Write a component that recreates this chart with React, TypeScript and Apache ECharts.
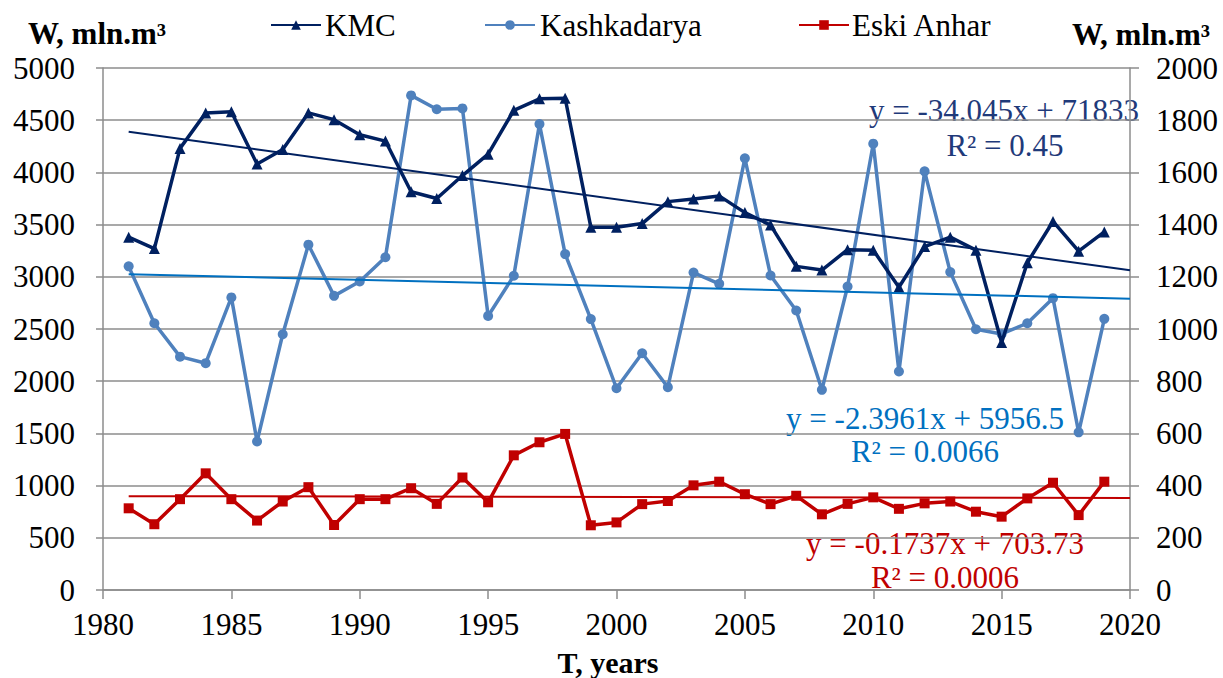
import React, { useEffect, useRef } from "react";
import * as echarts from "echarts";

const years = [1981,1982,1983,1984,1985,1986,1987,1988,1989,1990,1991,1992,1993,1994,1995,1996,1997,1998,1999,2000,2001,2002,2003,2004,2005,2006,2007,2008,2009,2010,2011,2012,2013,2014,2015,2016,2017,2018,2019];
const kmc = [3380,3270,4230,4570,4580,4080,4220,4570,4505,4360,4300,3815,3750,3970,4175,4595,4705,4710,3475,3475,3510,3720,3745,3775,3615,3495,3100,3065,3260,3255,2900,3290,3380,3255,2370,3135,3530,3245,3430];
const kashkadarya = [1240,1022,894,869,1121,569,980,1323,1127,1182,1275,1895,1842,1845,1050,1204,1785,1287,1038,773,907,777,1216,1173,1654,1205,1071,767,1163,1710,837,1604,1218,999,981,1022,1118,604,1039];
const eskiAnhar = [313,252,348,447,348,266,339,394,249,348,348,390,330,431,336,516,566,598,248,259,329,341,401,415,367,329,361,290,330,355,311,332,339,300,281,351,411,287,415];
const seriesNames = ["KMC", "Kashkadarya", "Eski Anhar"];

const xTicks = { min: 1980, max: 2020, interval: 5 };
const leftTicks = { min: 0, max: 5000, interval: 500 };
const rightTicks = { min: 0, max: 2000, interval: 200 };

const trendRange = [1981, 2020];
const kmcTrend = { a: -34.045, b: 71833, eq: "y = -34.045x + 71833", r2: "R² = 0.45" };
const kashTrend = { a: -2.3961, b: 5956.5, eq: "y = -2.3961x + 5956.5", r2: "R² = 0.0066" };
const eskiTrend = { a: -0.1737, b: 703.73, eq: "y = -0.1737x + 703.73", r2: "R² = 0.0006" };

const FONT = "Liberation Serif, Times New Roman, serif";
const C_KMC = "#002060";
const C_KASH = "#4F81BD";
const C_KASH_T = "#0070C0";
const C_ESKI = "#C00000";
const GRID = "#8C8C8C";

const trendData = (t: { a: number; b: number }) => trendRange.map((x) => [x, t.a * x + t.b]);
const pairs = (vals: number[]) => years.map((y, i) => [y, vals[i]]);

export default function App() {
  const ref = useRef<HTMLDivElement>(null);
  useEffect(() => {
    if (!ref.current) return;
    const chart = echarts.init(ref.current, undefined, { renderer: "svg" });
    const axisLbl = { fontFamily: FONT, fontSize: 31, color: "#000", formatter: (v: number) => String(v) };
    const legendBase = {
      top: 19,
      padding: 0,
      itemWidth: 50,
      itemHeight: 12,
      formatter: () => "",
      textStyle: { fontSize: 1 },
      itemGap: 0,
    };
    const txt = (x: number, y: number, text: string, color: string, bold = false, size = 31, align = "center") => ({
      type: "text",
      x,
      y,
      style: {
        text,
        fill: color,
        fontFamily: FONT,
        fontSize: size,
        fontWeight: bold ? "bold" : "normal",
        textAlign: align,
        textVerticalAlign: "middle",
      },
    });
    chart.setOption({
      animation: false,
      backgroundColor: "#fff",
      textStyle: { fontFamily: FONT },
      grid: { left: 103, right: 93, top: 68, bottom: 88 },
      legend: [
        { ...legendBase, left: 270, data: [seriesNames[0]] },
        { ...legendBase, left: 484, data: [seriesNames[1]] },
        { ...legendBase, left: 798, data: [seriesNames[2]] },
      ],
      xAxis: {
        type: "value",
        ...xTicks,
        axisLine: { show: true, onZero: false, lineStyle: { color: GRID, width: 1.5 } },
        axisTick: { show: true, length: 9, lineStyle: { color: GRID, width: 1.5 } },
        axisLabel: { ...axisLbl, margin: 19 },
        splitLine: { show: false },
      },
      yAxis: [
        {
          type: "value",
          ...leftTicks,
          axisLine: { show: true, lineStyle: { color: GRID, width: 1.5 } },
          axisTick: { show: true, length: 7, lineStyle: { color: GRID, width: 1.5 } },
          axisLabel: { ...axisLbl, margin: 28 },
          splitLine: { show: true, lineStyle: { color: GRID, width: 1.5 } },
        },
        {
          type: "value",
          position: "right",
          ...rightTicks,
          axisLine: { show: true, lineStyle: { color: GRID, width: 1.5 } },
          axisTick: { show: true, length: 9, lineStyle: { color: GRID, width: 1.5 } },
          axisLabel: { ...axisLbl, margin: 26 },
          splitLine: { show: false },
        },
      ],
      series: [
        {
          name: seriesNames[0],
          type: "line",
          yAxisIndex: 0,
          data: pairs(kmc),
          symbol: "triangle",
          symbolSize: 11,
          itemStyle: { color: C_KMC },
          lineStyle: { color: C_KMC, width: 3.5 },
          z: 5,
        },
        {
          name: seriesNames[1],
          type: "line",
          yAxisIndex: 1,
          data: pairs(kashkadarya),
          symbol: "circle",
          symbolSize: 10,
          itemStyle: { color: C_KASH },
          lineStyle: { color: C_KASH, width: 3.5 },
          z: 4,
        },
        {
          name: seriesNames[2],
          type: "line",
          yAxisIndex: 1,
          data: pairs(eskiAnhar),
          symbol: "rect",
          symbolSize: 10,
          itemStyle: { color: C_ESKI },
          lineStyle: { color: C_ESKI, width: 3.5 },
          z: 4,
        },
        {
          name: "KMC trend",
          type: "line",
          yAxisIndex: 0,
          data: trendData(kmcTrend),
          symbol: "none",
          lineStyle: { color: C_KMC, width: 2 },
          z: 6,
        },
        {
          name: "Kashkadarya trend",
          type: "line",
          yAxisIndex: 1,
          data: trendData(kashTrend),
          symbol: "none",
          lineStyle: { color: C_KASH_T, width: 2 },
          z: 6,
        },
        {
          name: "Eski Anhar trend",
          type: "line",
          yAxisIndex: 1,
          data: trendData(eskiTrend),
          symbol: "none",
          lineStyle: { color: C_ESKI, width: 2 },
          z: 6,
        },
      ],
      graphic: [
        txt(325, 25, seriesNames[0], "#000", false, 31, "left"),
        txt(540, 25, seriesNames[1], "#000", false, 31, "left"),
        txt(852, 25, seriesNames[2], "#000", false, 31, "left"),
        txt(97, 33, "W, mln.m³", "#000", true, 31),
        txt(1141, 34, "W, mln.m³", "#000", true, 31),
        txt(608, 662, "T, years", "#000", true, 30),
        txt(1004, 110, kmcTrend.eq, "#1F3A7A"),
        txt(1005, 145, kmcTrend.r2, "#1F3A7A"),
        txt(925, 418, kashTrend.eq, C_KASH_T),
        txt(925, 451, kashTrend.r2, C_KASH_T),
        txt(945, 543, eskiTrend.eq, C_ESKI),
        txt(945, 577, eskiTrend.r2, C_ESKI),
      ],
    });
    return () => chart.dispose();
  }, []);
  return <div ref={ref} style={{ position: "fixed", left: 0, top: 0, width: 1223, height: 678 }} />;
}
